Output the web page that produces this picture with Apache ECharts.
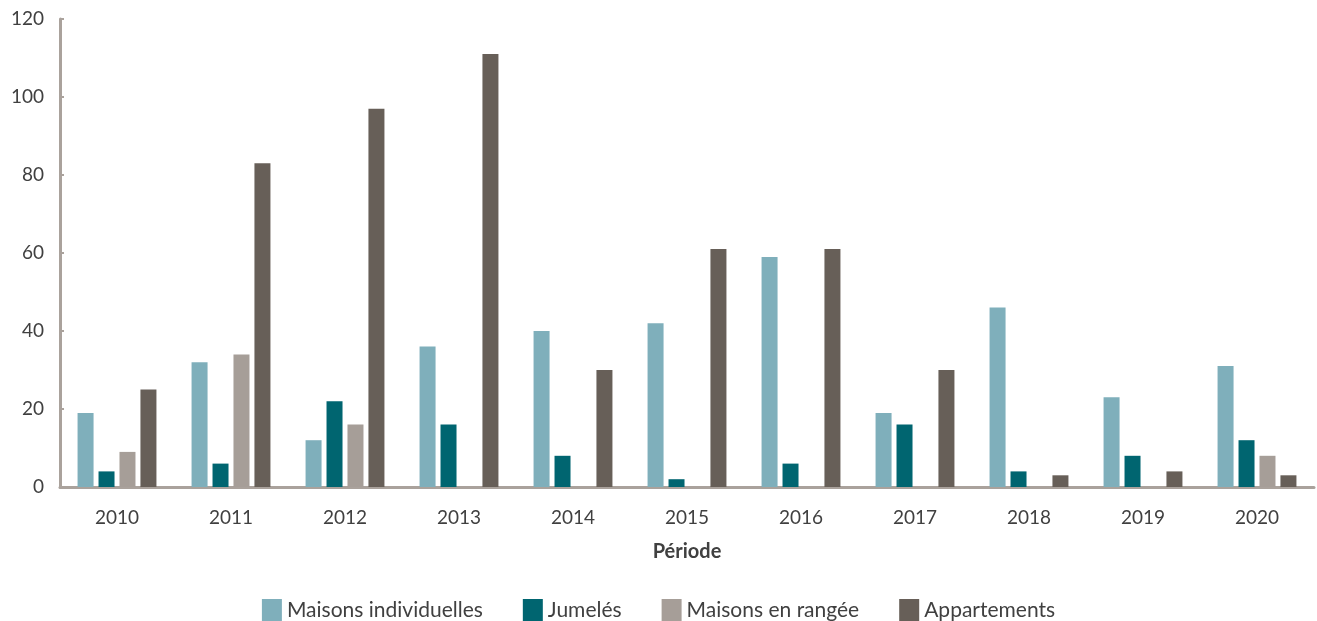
<!DOCTYPE html>
<html>
<head>
<meta charset="utf-8">
<script src="https://cdn.jsdelivr.net/npm/echarts@6/dist/echarts.min.js"></script>
<style>
  html, body { margin: 0; padding: 0; background: #fff; }
  #chart { width: 1317px; height: 621px; }
</style>
</head>
<body>
<div id="chart"></div>
<script>
const years = ['2010', '2011', '2012', '2013', '2014', '2015', '2016', '2017', '2018', '2019', '2020']
const maisonsIndividuelles = [19, 32, 12, 36, 40, 42, 59, 19, 46, 23, 31]
const jumeles = [4, 6, 22, 16, 8, 2, 6, 16, 4, 8, 12]
const maisonsEnRangee = [9, 34, 16, 0, 0, 0, 0, 0, 0, 0, 8]
const appartements = [25, 83, 97, 111, 30, 61, 61, 30, 3, 4, 3]

const textColor = '#404040'
const axisColor = '#aaa29c'
const fontFamily = 'Lato, "Open Sans", sans-serif'

const chart = echarts.init(document.getElementById('chart'))

const makeSeries = (name, data, color) => ({
  name,
  type: 'bar',
  data,
  barWidth: 16,
  barGap: '31%',
  itemStyle: { color }
})

chart.setOption({
  animation: false,
  textStyle: { fontFamily },
  grid: { left: 60, right: 3, top: 19, bottom: 134 },
  legend: {
    top: 594,
    left: 'center',
    itemWidth: 20,
    itemHeight: 22,
    itemGap: 40,
    icon: 'rect',
    textStyle: { fontSize: 21, color: textColor, fontFamily }
  },
  xAxis: {
    type: 'category',
    data: years,
    offset: 3,
    name: 'Période',
    nameLocation: 'middle',
    nameGap: 52,
    nameTextStyle: { fontSize: 20, fontWeight: 'bold', color: textColor },
    axisLine: { lineStyle: { color: axisColor, width: 3 } },
    axisTick: { show: false },
    axisLabel: { fontSize: 19, color: textColor, margin: 18 }
  },
  yAxis: {
    type: 'value',
    min: 0,
    max: 120,
    interval: 20,
    splitLine: { show: false },
    axisLine: { show: true, lineStyle: { color: axisColor, width: 3 } },
    axisTick: { show: true, inside: true, length: 4, lineStyle: { color: axisColor, width: 2 } },
    axisLabel: { fontSize: 19, color: textColor, margin: 16 }
  },
  series: [
    makeSeries('Maisons individuelles', maisonsIndividuelles, '#7fafbb'),
    makeSeries('Jumelés', jumeles, '#006570'),
    makeSeries('Maisons en rangée', maisonsEnRangee, '#a69e98'),
    makeSeries('Appartements', appartements, '#675f58')
  ]
})
</script>
</body>
</html>
